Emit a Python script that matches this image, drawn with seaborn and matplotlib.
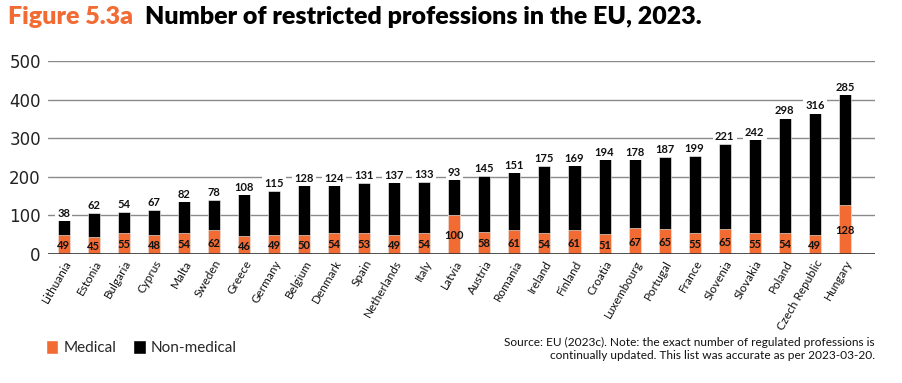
import matplotlib
matplotlib.use("Agg")
import matplotlib.pyplot as plt
import seaborn as sns
import pandas as pd
import numpy as np
from matplotlib.patches import Patch

countries = ["Lithuania", "Estonia", "Bulgaria", "Cyprus", "Malta", "Sweden", "Greece",
             "Germany", "Belgium", "Denmark", "Spain", "Netherlands", "Italy", "Latvia",
             "Austria", "Romania", "Ireland", "Finland", "Croatia", "Luxembourg", "Portugal",
             "France", "Slovenia", "Slovakia", "Poland", "Czech Republic", "Hungary"]
medical = [49, 45, 55, 48, 54, 62, 46, 49, 50, 54, 53, 49, 54, 100, 58, 61, 54, 61, 51,
           67, 65, 55, 65, 55, 54, 49, 128]
non_medical = [38, 62, 54, 67, 82, 78, 108, 115, 128, 124, 131, 137, 133, 93, 145, 151,
               175, 169, 194, 178, 187, 199, 221, 242, 298, 316, 285]
y_ticks = [0, 100, 200, 300, 400, 500]

ORANGE = "#F26B33"
BLACK = "#000000"

sns.set_theme(style="white")
plt.rcParams['font.family'] = ['Lato', 'DejaVu Sans']

df = pd.DataFrame({"country": countries, "medical": medical, "non_medical": non_medical})
df["total"] = df["medical"] + df["non_medical"]

fig = plt.figure(figsize=(9.02, 3.83), dpi=100)
ax = fig.add_axes([0.053, 0.337, 0.917, 0.504])

for v in y_ticks[1:]:
    ax.axhline(v, color="#8a8a8a", lw=1.0, zorder=0)
ax.axhline(0, color="#333333", lw=1.2, zorder=3)

sns.barplot(data=df, x="country", y="total", color=BLACK, width=0.4, ax=ax,
            edgecolor="white", linewidth=0.4, saturation=1, zorder=2)
sns.barplot(data=df, x="country", y="medical", color=ORANGE, width=0.4, ax=ax,
            edgecolor="white", linewidth=0.4, saturation=1, zorder=2)

for i, row in df.iterrows():
    ax.text(i, row["medical"] / 2 - 3, str(row["medical"]), ha="center", va="center",
            fontsize=8, fontweight="bold", color="#111111", zorder=5)
    ax.text(i, row["total"] + 4, str(row["non_medical"]), ha="center", va="bottom",
            fontsize=8, fontweight="bold", color="#111111", zorder=5,
            bbox=dict(facecolor="white", edgecolor="none", pad=1.5))

ax.set_ylim(0, 500)
ax.set_xlim(-0.53, 27.0)
ax.set_yticks(y_ticks)
ax.set_yticklabels([str(v) for v in y_ticks], fontsize=12, color="#222222",
                   family=['DejaVu Sans'])
ax.tick_params(axis="y", length=0, pad=5)
ax.tick_params(axis="x", length=0, pad=3)
ax.set_xticks(range(len(countries)))
ax.set_xticklabels(countries, rotation=60, ha="right", rotation_mode="anchor",
                   fontsize=8.5, color="#111111")
ax.set_xlabel("")
ax.set_ylabel("")
for s in ax.spines.values():
    s.set_visible(False)

fig.text(0.009, 0.955, "Figure 5.3a", color=ORANGE, fontsize=18, fontweight="heavy",
         va="center", ha="left")
fig.text(0.161, 0.955, "Number of restricted professions in the EU, 2023.", color="black",
         fontsize=18, fontweight="heavy", va="center", ha="left")

handles = [Patch(facecolor=ORANGE, label="Medical"), Patch(facecolor=BLACK, label="Non-medical")]
fig.legend(handles=handles, loc="center left", bbox_to_anchor=(0.036, 0.092), ncol=2,
           frameon=False, fontsize=11, handlelength=0.8, handleheight=1.0,
           handletextpad=0.35, columnspacing=1.1)

fig.text(0.970, 0.088, "Source: EU (2023c). Note: the exact number of regulated professions is\n"
         "continually updated. This list was accurate as per 2023-03-20.",
         ha="right", va="center", fontsize=8.6, color="#111111",
         family=['Lato', 'DejaVu Sans'], linespacing=1.25,
         multialignment="right")

fig.savefig("out.png", dpi=100, facecolor="white")
